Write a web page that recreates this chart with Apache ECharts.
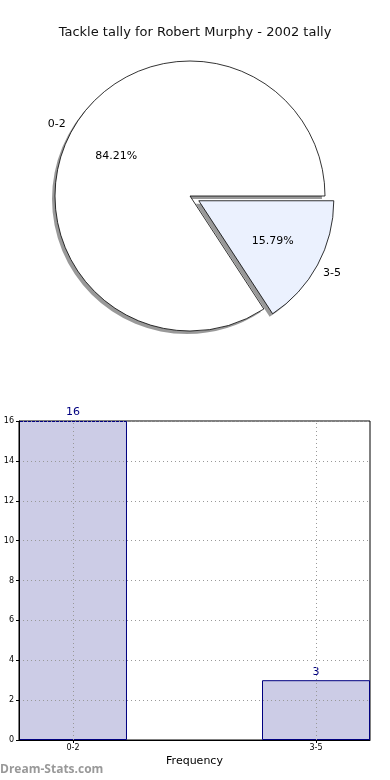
<!DOCTYPE html>
<html><head><meta charset="utf-8">
<script src="https://cdn.jsdelivr.net/npm/echarts@6/dist/echarts.min.js"></script>
<style>html,body{margin:0;padding:0;background:#fff}#c{width:390px;height:780px}</style>
</head><body><div id="c"></div>
<script>
var titleText = 'Tackle tally for Robert Murphy - 2002 tally';
var categories = ['0-2', '3-5'];
var values = [16, 3];
var yTicks = [0, 2, 4, 6, 8, 10, 12, 14, 16];
var xName = 'Frequency';
var yName = 'Distribution Tally';
var watermark = 'Dream-Stats.com';
var sliceColors = ['#ffffff', '#ebf1fe'];
var explodeFlags = [false, true];

var R = 135, cx = 190, cy = 196, off = 10;
var font = 'DejaVu Sans';

function sliceData(colorFn) {
  return categories.map(function (c, i) {
    return { name: c, value: values[i], selected: explodeFlags[i],
      itemStyle: { color: colorFn(i) } };
  });
}
function ghost(i) { return { name: categories[i], value: values[i], selected: explodeFlags[i] }; }

var pieCommon = { type: 'pie', startAngle: 0, clockwise: false, selectedMode: 'multiple',
  selectedOffset: off, silent: true, emphasis: { disabled: true }, labelLine: { show: false } };
function pie(extra) { return Object.assign({}, pieCommon, extra); }

var chart = echarts.init(document.getElementById('c'), null, { renderer: 'canvas' });
chart.setOption({
  animation: false,
  backgroundColor: '#fff',
  title: { text: titleText, left: 'center', top: 21,
    textStyle: { fontFamily: font, fontSize: 13, fontWeight: 'normal', color: '#111' } },
  graphic: [{ type: 'text', left: 0, top: 764,
    style: { text: watermark, fontFamily: 'Open Sans', fontSize: 12, fontWeight: 'bold', fill: '#999' } }],
  grid: { left: 19, right: 20, top: 421, bottom: 40, show: true, borderColor: '#000', borderWidth: 1,
    containLabel: false, outerBoundsMode: 'none' },
  xAxis: { type: 'value', min: -0.2222, max: 1.2222, z: 5,
    name: xName, nameLocation: 'middle', nameGap: 16,
    nameTextStyle: { fontFamily: font, fontSize: 11, color: '#000' },
    axisLine: { show: true, onZero: false, lineStyle: { color: '#000' } },
    axisTick: { show: true, customValues: [0, 1], length: 3, lineStyle: { color: '#000' } },
    axisLabel: { customValues: [0, 1], fontFamily: font, fontSize: 8, color: '#000', margin: 4,
      formatter: function (v) { return categories[Math.round(v)]; } },
    splitLine: { show: false } },
  yAxis: { type: 'value', min: 0, max: 16, interval: 2, z: 5,
    name: yName, nameLocation: 'middle', nameGap: 20, nameRotate: 90, nameMoveOverlap: false,
    nameTextStyle: { fontFamily: font, fontSize: 11, color: '#000' },
    axisLine: { show: true, onZero: false, lineStyle: { color: '#000' } },
    axisTick: { show: true, inside: false, length: 3, lineStyle: { color: '#000' } },
    axisLabel: { fontFamily: font, fontSize: 8, color: '#000', margin: 5,
      formatter: function (v) { return yTicks.indexOf(v) >= 0 ? String(v) : ''; } },
    splitLine: { show: true, lineStyle: { color: '#999', type: [1, 3] } } },
  series: [
    { type: 'bar', data: categories.map(function (c, i) { return [i, values[i]]; }),
      barWidth: 108, z: 1,
      itemStyle: { color: 'rgba(0,0,128,0.2)', borderColor: '#000080', borderWidth: 1 },
      label: { show: true, position: 'top', distance: 3, color: '#000080', fontFamily: font, fontSize: 11 },
      markLine: { silent: true, symbol: 'none', label: { show: false }, animation: false,
        lineStyle: { color: '#999', type: [1, 3], width: 1 },
        data: categories.map(function (c, i) { return { xAxis: i }; }) } },
    pie({ center: [cx - 3, cy + 3], radius: [0, R], z: 1,
      itemStyle: { borderWidth: 0 }, label: { show: false },
      data: sliceData(function () { return 'rgba(0,0,0,0.4)'; }) }),
    pie({ center: [cx, cy], radius: [0, R], z: 2,
      itemStyle: { borderColor: '#000', borderWidth: 0.8 }, label: { show: false },
      data: sliceData(function (i) { return sliceColors[i]; }) }),
    pie({ center: [cx, cy], radius: [0, R * 1.2], z: 3, percentPrecision: 2,
      itemStyle: { color: 'rgba(0,0,0,0)', borderWidth: 0 },
      label: { show: true, position: 'inside', formatter: '{d}%', fontFamily: font, fontSize: 11, color: '#000' },
      data: categories.map(function (c, i) { return ghost(i); }) }),
    pie({ center: [cx, cy], radius: [0, R * 2.2], z: 3,
      itemStyle: { color: 'rgba(0,0,0,0)', borderWidth: 0 },
      label: { show: true, position: 'inside', formatter: '{b}', fontFamily: font, fontSize: 11, color: '#000' },
      data: categories.map(function (c, i) { var d = ghost(i); d.label = { align: i === 0 ? 'right' : 'left' }; return d; }) })
  ]
});
</script></body></html>
